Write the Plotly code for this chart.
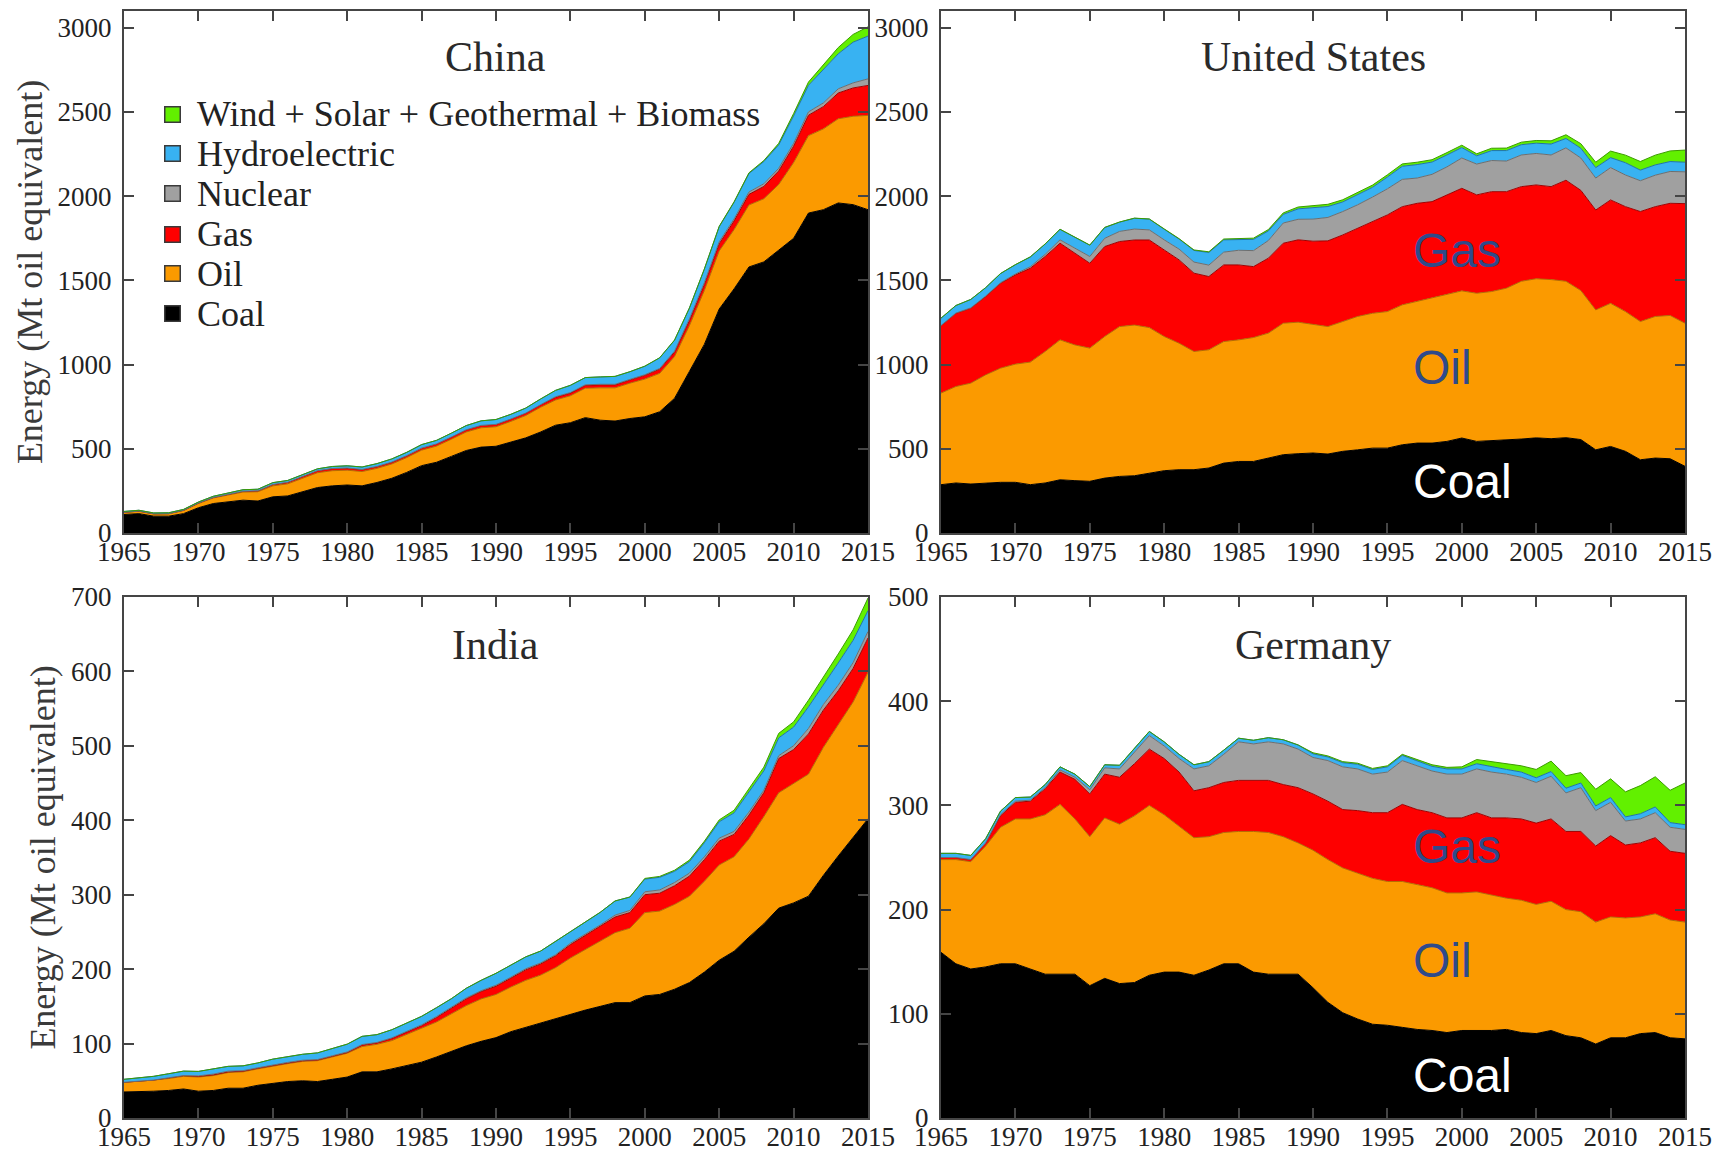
import plotly.graph_objects as go

# ---------------------------------------------------------------------------
# Primary energy consumption by source, 1965-2015 (Mt oil equivalent)
# ---------------------------------------------------------------------------
years = list(range(1965, 2016))
x_ticks = [1965, 1970, 1975, 1980, 1985, 1990, 1995, 2000, 2005, 2010, 2015]

sources = ["Coal", "Oil", "Gas", "Nuclear", "Hydroelectric",
           "Wind + Solar + Geothermal + Biomass"]

# China
china_coal = [110, 115, 100, 100, 115, 150, 175, 185, 195, 190,
              215, 220, 245, 270, 280, 285, 280, 300, 325, 360,
              400, 420, 455, 490, 510, 515, 540, 565, 600, 640,
              655, 685, 670, 665, 680, 690, 720, 800, 960, 1120,
              1330, 1450, 1580, 1610, 1680, 1750, 1900, 1920, 1960, 1950, 1920]
china_oil = [12, 14, 13, 14, 18, 25, 33, 40, 48, 55,
             65, 72, 80, 88, 90, 88, 85, 84, 85, 88,
             92, 96, 102, 110, 115, 116, 123, 133, 147, 150,
             160, 175, 192, 197, 210, 224, 228, 248, 272, 320,
             345, 352, 368, 375, 390, 450, 460, 480, 500, 525, 560]
china_gas = [1, 1, 1, 1, 2, 3, 3, 4, 5, 6,
             8, 9, 11, 12, 13, 13, 12, 11, 11, 11,
             12, 13, 13, 13, 14, 14, 14, 14, 15, 16,
             16, 17, 18, 18, 19, 22, 25, 26, 30, 35,
             42, 51, 63, 73, 80, 97, 121, 132, 153, 168, 178]
china_nuclear = [0, 0, 0, 0, 0, 0, 0, 0, 0, 0,
                 0, 0, 0, 0, 0, 0, 0, 0, 0, 0,
                 0, 0, 0, 0, 0, 0, 0, 0, 0, 3,
                 3, 3, 3, 3, 3, 4, 4, 6, 10, 11,
                 12, 12, 14, 16, 16, 17, 20, 22, 25, 30, 39]
china_hydro = [5, 5, 5, 5, 5, 6, 7, 7, 9, 9,
               11, 11, 11, 11, 12, 13, 15, 17, 19, 20,
               21, 21, 23, 25, 27, 29, 28, 30, 34, 38,
               43, 43, 44, 47, 46, 50, 63, 65, 64, 80,
               90, 99, 110, 132, 139, 163, 158, 197, 208, 242, 254]
china_renew = [0, 0, 0, 0, 0, 0, 0, 0, 0, 0,
               0, 0, 0, 0, 0, 0, 0, 0, 0, 0,
               0, 0, 0, 0, 0, 0, 0, 0, 0, 0,
               0, 0, 0, 0, 0, 1, 1, 1, 1, 2,
               2, 3, 4, 6, 9, 14, 19, 28, 37, 46, 55]

# United States
us_coal = [287, 297, 291, 297, 301, 301, 287, 297, 316, 311,
           307, 326, 336, 340, 356, 370, 376, 376, 386, 415,
           425, 425, 445, 465, 471, 475, 469, 485, 494, 504,
           504, 524, 534, 534, 544, 564, 544, 548, 554, 558,
           565, 560, 566, 555, 494, 514, 485, 435, 445, 441, 396]
us_oil = [544, 573, 599, 642, 678, 702, 728, 781, 831, 806,
          791, 841, 890, 895, 864, 797, 751, 702, 702, 722,
          722, 736, 742, 781, 781, 766, 757, 771, 792, 801,
          811, 831, 841, 860, 870, 874, 880, 886, 900, 937,
          945, 945, 929, 885, 831, 850, 830, 821, 841, 851, 850]
us_gas = [400, 435, 445, 465, 504, 530, 557, 564, 574, 544,
          504, 534, 505, 505, 520, 514, 495, 465, 435, 455,
          445, 421, 445, 475, 489, 492, 509, 514, 524, 544,
          574, 583, 583, 574, 594, 609, 584, 593, 573, 562,
          557, 552, 600, 595, 593, 614, 623, 653, 652, 666, 710]
us_nuclear = [1, 1, 2, 3, 3, 5, 9, 13, 20, 28,
              40, 49, 60, 65, 60, 60, 64, 66, 68, 76,
              87, 95, 105, 120, 122, 131, 139, 139, 139, 146,
              155, 162, 150, 162, 166, 180, 183, 185, 182, 188,
              187, 188, 192, 192, 190, 192, 188, 183, 187, 189, 189]
us_hydro = [44, 45, 50, 50, 55, 55, 58, 61, 62, 68,
            67, 64, 55, 64, 64, 63, 60, 69, 75, 73,
            63, 67, 57, 51, 62, 66, 65, 57, 63, 58,
            70, 78, 80, 73, 71, 62, 49, 59, 62, 61,
            61, 65, 56, 58, 62, 59, 73, 63, 61, 59, 57]
us_renew = [0, 0, 0, 0, 0, 1, 1, 1, 1, 1,
            1, 1, 1, 1, 1, 2, 2, 3, 4, 5,
            6, 7, 8, 9, 11, 12, 13, 13, 13, 13,
            13, 14, 14, 14, 14, 14, 12, 14, 15, 15,
            16, 19, 22, 27, 32, 39, 45, 51, 58, 63, 72]

# India
india_coal = [35, 35, 36, 37, 39, 36, 37, 40, 40, 44,
              47, 49, 50, 49, 52, 55, 62, 62, 66, 70,
              75, 82, 90, 97, 103, 108, 116, 122, 128, 133,
              140, 145, 150, 155, 155, 164, 166, 173, 182, 196,
              212, 224, 243, 261, 282, 289, 298, 326, 352, 377, 402]
india_oil = [13, 14, 15, 16, 17, 19, 20, 21, 22, 22,
             23, 24, 26, 28, 30, 32, 34, 37, 38, 42,
             45, 47, 50, 54, 57, 58, 60, 63, 64, 69,
             75, 81, 87, 94, 100, 112, 112, 114, 116, 122,
             128, 127, 132, 144, 155, 160, 164, 172, 176, 182, 197]
india_gas = [0, 0, 0, 1, 1, 1, 1, 1, 1, 1,
             1, 1, 1, 1, 1, 1, 2, 2, 3, 3,
             4, 6, 8, 9, 10, 11, 12, 14, 15, 16,
             18, 19, 20, 21, 21, 24, 24, 25, 27, 29,
             32, 30, 32, 32, 46, 46, 54, 50, 46, 45, 46]
india_nuclear = [0, 0, 0, 0, 0, 0.6, 1.0, 0.9, 0.6, 0.5,
                 0.6, 0.7, 0.6, 0.5, 0.6, 0.7, 0.7, 0.5, 0.6, 0.9,
                 1.1, 1.2, 1.3, 1.3, 1.0, 1.4, 1.2, 1.5, 1.3, 1.3,
                 1.8, 2.0, 2.3, 2.6, 2.9, 3.9, 4.4, 4.4, 4.0, 3.8,
                 4.0, 4.0, 4.0, 3.4, 3.8, 5.2, 7.4, 7.5, 7.5, 7.8, 8.6]
india_hydro = [4, 5, 5, 5.5, 6, 6, 6.5, 6.5, 6.5, 6.5,
               7.5, 8, 8, 9, 10, 10.5, 11, 10.5, 11, 12,
               11.5, 12, 11, 13, 14, 16, 16, 16, 16, 18,
               16, 16, 17, 19, 18, 17, 17, 15, 15.5, 19,
               22, 25, 27, 26, 24, 25, 29, 26, 30, 30, 28]
india_renew = [0, 0, 0, 0, 0, 0, 0, 0, 0, 0,
               0, 0, 0, 0, 0, 0, 0, 0, 0, 0,
               0, 0, 0, 0, 0, 0, 0, 0, 0, 0,
               0, 0, 0, 0, 0, 1, 1.2, 1.5, 2, 2,
               2.5, 3.5, 4.3, 5, 6, 7, 9, 10.5, 12, 14, 17]

# Germany
de_coal = [159, 148, 143, 145, 148, 148, 143, 138, 138, 138,
           127, 134, 129, 130, 137, 140, 140, 137, 142, 148,
           148, 140, 138, 138, 138, 125, 111, 101, 95, 90,
           89, 87, 85, 84, 82, 84, 84, 84, 85, 82,
           81, 84, 79, 77, 71, 77, 77, 81, 82, 77, 76]
de_oil = [89, 100, 103, 116, 131, 139, 144, 153, 163, 149,
          143, 154, 153, 160, 163, 151, 140, 132, 128, 126,
          127, 135, 136, 132, 126, 132, 137, 139, 140, 140,
          138, 140, 139, 137, 134, 132, 133, 130, 126, 127,
          124, 124, 121, 121, 117, 116, 115, 112, 114, 113, 112]
de_gas = [2, 2, 2, 3, 11, 16, 17, 25, 31, 38,
          41, 42, 45, 50, 54, 54, 52, 45, 47, 48,
          49, 49, 50, 50, 53, 54, 56, 56, 60, 63,
          66, 74, 72, 72, 72, 72, 76, 74, 77, 78,
          78, 79, 75, 77, 73, 78, 70, 71, 73, 66, 66]
de_nuclear = [0, 0, 0, 0, 1, 1, 1, 1, 2, 2,
              4, 6, 8, 11, 13, 12, 13, 21, 21, 27,
              37, 35, 37, 39, 37, 35, 39, 41, 40, 37,
              39, 42, 42, 40, 42, 42, 42, 44, 42, 40,
              39, 41, 37, 42, 34, 32, 23, 23, 24, 23, 23]
de_hydro = [4, 4, 4, 4, 3.5, 3.5, 3, 3, 3, 3,
            3, 3, 3.5, 3.5, 4, 4, 4, 4, 4, 4,
            3.5, 3.5, 4, 4, 4, 3.5, 3.5, 4, 4.5, 4.5,
            5, 5, 4.5, 4.5, 5, 5, 5, 5, 4.5, 5,
            4.5, 4.5, 4.5, 4.5, 4.5, 4.5, 4, 5, 5.5, 4.5, 4.5]
de_renew = [0, 0, 0, 0, 0, 0, 0, 0, 0, 0,
            0, 0, 0, 0, 0, 0, 0, 0, 0, 0,
            0, 0, 0, 0, 0, 1, 1, 1, 1, 1,
            1, 1, 1.5, 1.5, 1.5, 2, 4, 5, 6, 6,
            8, 10, 12, 10, 16, 18, 24, 27, 29, 31, 40]

# ---------------------------------------------------------------------------
# Styling
# ---------------------------------------------------------------------------
fill_colors = ["#000000", "#fb9a00", "#fe0000", "#a0a0a0", "#38b2f2", "#62f000"]
edge_colors = ["#000000", "#b46c00", "#a00000", "#6e6e6e", "#1f72a8", "#3c9c00"]

SERIF = "Liberation Serif, Times New Roman, serif"
SANS = "Liberation Sans, Arial, sans-serif"
TEXT = "#222222"
FRAME = "#454545"
W, H = 1719, 1153

panels = [
    ("China", "x", "y",
     [china_coal, china_oil, china_gas, china_nuclear, china_hydro, china_renew]),
    ("United States", "x2", "y2",
     [us_coal, us_oil, us_gas, us_nuclear, us_hydro, us_renew]),
    ("India", "x3", "y3",
     [india_coal, india_oil, india_gas, india_nuclear, india_hydro, india_renew]),
    ("Germany", "x4", "y4",
     [de_coal, de_oil, de_gas, de_nuclear, de_hydro, de_renew]),
]

fig = go.Figure()

for country, xa, ya, layers in panels:
    for name, vals, fc, lc in zip(sources, layers, fill_colors, edge_colors):
        fig.add_trace(go.Scatter(
            x=years, y=vals, name=name, mode="lines",
            stackgroup=country, fillcolor=fc,
            line=dict(color=lc, width=1),
            xaxis=xa, yaxis=ya, showlegend=False,
        ))

xdom_left = [124 / W, 868 / W]
xdom_right = [941 / W, 1685 / W]
ydom_top = [1 - 533 / H, 1 - 11 / H]
ydom_bottom = [1 - 1118 / H, 1 - 597 / H]


def xaxis_style(domain, anchor):
    return dict(
        domain=domain, anchor=anchor, range=[1965, 2015],
        tickmode="array", tickvals=x_ticks, automargin=False,
        ticks="inside", ticklen=10, tickwidth=2, tickcolor=FRAME,
        showline=True, linewidth=2, linecolor=FRAME, mirror="allticks",
        showgrid=False, zeroline=False,
        tickfont=dict(family=SERIF, size=27, color=TEXT),
        ticklabelstandoff=-6,
    )


def yaxis_style(domain, anchor, top, step, title=None):
    d = dict(
        domain=domain, anchor=anchor, range=[0, top], automargin=False,
        tick0=0, dtick=step, tickformat="d",
        ticks="inside", ticklen=10, tickwidth=2, tickcolor=FRAME,
        showline=True, linewidth=2, linecolor=FRAME, mirror="allticks",
        showgrid=False, zeroline=False,
        tickfont=dict(family=SERIF, size=27, color=TEXT),
        ticklabelstandoff=5,
    )
    if title:
        d["title"] = dict(text=title, standoff=4,
                          font=dict(family=SERIF, size=36, color="#3a3a3a"))
    return d


ytitle = "Energy (Mt oil equivalent)"
fig.update_layout(
    width=W, height=H,
    margin=dict(l=0, r=0, t=0, b=0, autoexpand=False),
    paper_bgcolor="white", plot_bgcolor="white",
    xaxis=xaxis_style(xdom_left, "y"),
    yaxis=yaxis_style(ydom_top, "x", 3100, 500, ytitle),
    xaxis2=xaxis_style(xdom_right, "y2"),
    yaxis2=yaxis_style(ydom_top, "x2", 3100, 500),
    xaxis3=xaxis_style(xdom_left, "y3"),
    yaxis3=yaxis_style(ydom_bottom, "x3", 700, 100, ytitle),
    xaxis4=xaxis_style(xdom_right, "y4"),
    yaxis4=yaxis_style(ydom_bottom, "x4", 500, 100),
    showlegend=False,
    hovermode=False,
)

# Key for the source colours (upper-left of the China panel)
key_rows = [114, 154, 194, 234, 274, 314]
for (name, fc), row in zip(zip(reversed(sources), reversed(fill_colors)), key_rows):
    fig.add_annotation(
        text=" ", xref="paper", yref="paper", x=172 / W, y=1 - row / H,
        xanchor="center", yanchor="middle", showarrow=False,
        width=14, height=14, borderpad=0, borderwidth=1.5,
        bgcolor=fc, bordercolor="#3a3a3a", font=dict(size=4),
    )
    fig.add_annotation(
        text=name, xref="paper", yref="paper", x=195 / W, y=1 - row / H,
        xanchor="left", yanchor="middle", showarrow=False,
        font=dict(family=SERIF, size=36, color=TEXT),
    )

# Panel titles
for text, xd, yp in [("China", xdom_left, 1 - 57 / H),
                     ("United States", xdom_right, 1 - 57 / H),
                     ("India", xdom_left, 1 - 645 / H),
                     ("Germany", xdom_right, 1 - 645 / H)]:
    fig.add_annotation(
        text=text, xref="paper", yref="paper",
        x=(xd[0] + xd[1]) / 2, y=yp, xanchor="center", yanchor="middle",
        showarrow=False, font=dict(family=SERIF, size=42, color="#2a2a2a"),
    )

# In-chart source labels
label_blue = "#2f4a8a"
for xa, ya, items in [
    ("x2", "y2", [("Gas", 1679, label_blue), ("Oil", 985, label_blue),
                  ("Coal", 303, "white")]),
    ("x4", "y4", [("Gas", 261, label_blue), ("Oil", 151, label_blue),
                  ("Coal", 41, "white")]),
]:
    for text, yv, col in items:
        fig.add_annotation(
            text=text, xref=xa, yref=ya, x=1996.6, y=yv,
            xanchor="left", yanchor="middle", showarrow=False,
            font=dict(family=SANS, size=48, color=col),
        )

fig.write_html("out.html")
